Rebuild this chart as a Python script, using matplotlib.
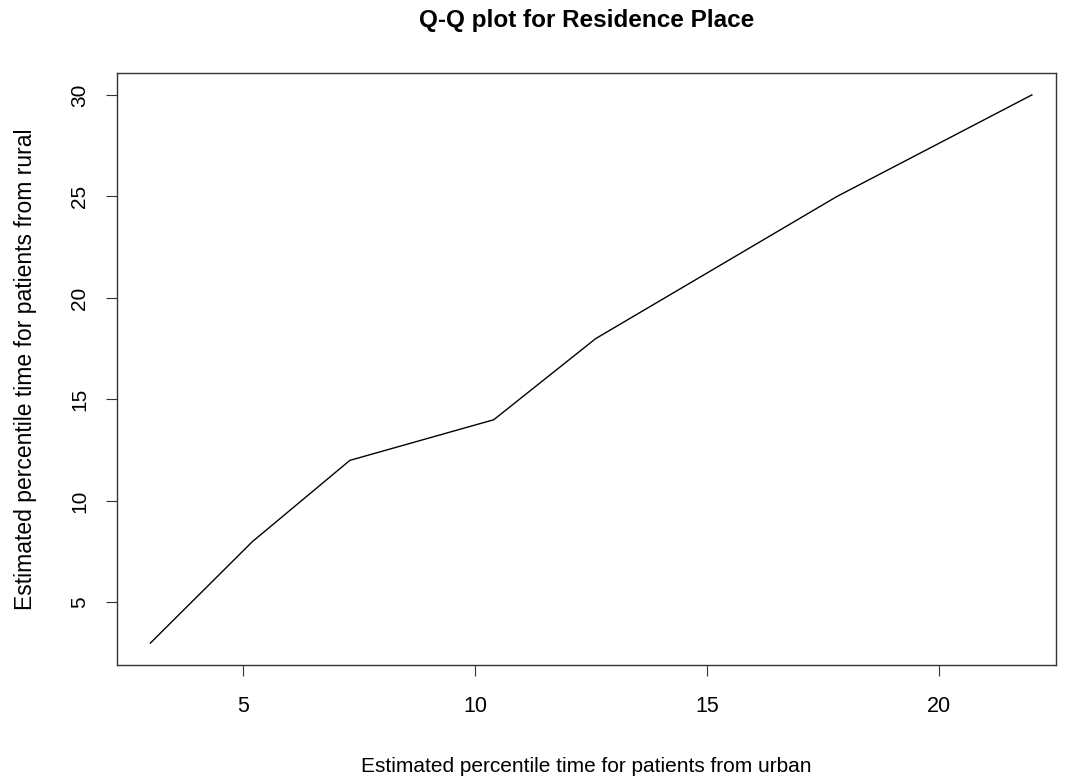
import numpy as np
import matplotlib
matplotlib.use("Agg")
from matplotlib import pyplot as plt

plt.rcParams['font.family'] = ['Liberation Sans', 'DejaVu Sans']

# estimated percentiles (urban vs rural)
urban = [3.0, 5.2, 7.3, 10.4, 12.6, 17.8, 22.0]
rural = [3, 8, 12, 14, 18, 25, 30]
xticks = [5, 10, 15, 20]
yticks = [5, 10, 15, 20, 25, 30]

fig = plt.figure(figsize=(10.68, 7.8), dpi=100)
ax = fig.add_axes([117/1068, 1 - 665/780, (1056 - 117)/1068, (665 - 73)/780])

ax.plot(urban, rural, color='black', linewidth=1.0)

ax.set_xlim(2.28, 22.52)
ax.set_ylim(1.92, 31.08)
ax.set_xticks(xticks)
ax.set_yticks(yticks)
ax.tick_params(direction='out', length=8, width=0.8, color='#333333')
ax.tick_params(axis='x', labelsize=15.5, pad=14)
ax.tick_params(axis='y', labelsize=15, pad=12)
for lab in ax.get_yticklabels():
    lab.set_rotation(90)
    lab.set_va('center')
for s in ax.spines.values():
    s.set_linewidth(1.0)
    s.set_color('#333333')

ax.set_title('Q-Q plot for Residence Place', fontsize=17.5, fontweight='bold', pad=33)
ax.set_xlabel('Estimated percentile time for patients from urban', fontsize=15, labelpad=29)
ax.set_ylabel('Estimated percentile time for patients from rural', fontsize=16.5, labelpad=24)

fig.savefig('out.png', dpi=100, facecolor='white')
